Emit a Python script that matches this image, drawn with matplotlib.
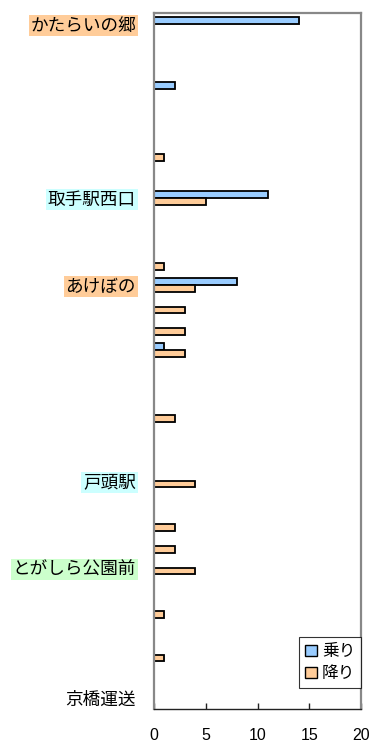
import matplotlib
matplotlib.use("Agg")
import matplotlib.pyplot as plt
from matplotlib.patches import Patch

plt.rcParams['font.family'] = ['Noto Sans CJK JP', 'DejaVu Sans']

# Bus stops along the route (only key stops are named on the axis)
stops = [""] * 32
stops[0] = "かたらいの郷"
stops[8] = "取手駅西口"
stops[12] = "あけぼの"
stops[21] = "戸頭駅"
stops[25] = "とがしら公園前"
stops[31] = "京橋運送"

# Background colour for highlighted stop names
label_bg = {0: "#FFCC99", 8: "#CCFFFF", 12: "#FFCC99", 21: "#CCFFFF", 25: "#CCFFCC"}

boarding = [0] * 32
boarding[0] = 14
boarding[3] = 2
boarding[8] = 11
boarding[12] = 8
boarding[15] = 1

alighting = [0] * 32
alighting[6] = 1
alighting[8] = 5
alighting[11] = 1
alighting[12] = 4
alighting[13] = 3
alighting[14] = 3
alighting[15] = 3
alighting[18] = 2
alighting[21] = 4
alighting[23] = 2
alighting[24] = 2
alighting[25] = 4
alighting[27] = 1
alighting[29] = 1

series_names = ["乗り", "降り"]
x_ticks = [0, 5, 10, 15, 20]

fig = plt.figure(figsize=(3.76, 7.46), dpi=100)
ax = fig.add_axes([154 / 376, 1 - 709 / 746, (361 - 154) / 376, (709 - 13) / 746])

idx = list(range(len(stops)))
h = 0.31
blue = "#99CCFF"
orange = "#FFCC99"

for vals, off, col in ((boarding, -h / 2, blue), (alighting, h / 2, orange)):
    ys = [i + off for i, v in zip(idx, vals) if v > 0]
    ws = [v for v in vals if v > 0]
    # soft drop shadow
    ax.barh([y + 0.04 for y in ys], ws, height=h, left=0.06, color="#bbbbbb",
            edgecolor="none", zorder=1)
    ax.barh(ys, ws, height=h, color=col, edgecolor="black", linewidth=1.3, zorder=2)

ax.set_xlim(0, 20)
ax.set_ylim(len(stops) - 0.5, -0.5)
ax.set_xticks(x_ticks)
ax.set_xticklabels([str(t) for t in x_ticks], fontfamily=['Liberation Sans', 'DejaVu Sans'],
                   fontsize=11.5)
ax.tick_params(axis='x', direction='in', length=4, width=1, pad=14, color="#222222")
ax.set_yticks(idx)
ax.set_yticklabels(stops, fontsize=12.7)
ax.tick_params(axis='y', length=0, pad=13)

for i, lab in enumerate(ax.get_yticklabels()):
    if i in label_bg:
        lab.set_bbox(dict(facecolor=label_bg[i], edgecolor="none", pad=1.2))

for side in ("left", "top", "right"):
    ax.spines[side].set_color("#888888")
    ax.spines[side].set_linewidth(1.6)
ax.spines["bottom"].set_color("#222222")
ax.spines["bottom"].set_linewidth(1.0)

handles = [Patch(facecolor=blue, edgecolor="black", linewidth=1.0),
           Patch(facecolor=orange, edgecolor="black", linewidth=1.0)]
leg = ax.legend(handles, series_names, loc="lower right",
                bbox_to_anchor=(1.0, (709 - 688) / 696), fontsize=12,
                frameon=True, fancybox=False, handlelength=0.7, handleheight=0.7,
                handletextpad=0.3, borderpad=0.35, labelspacing=0.3, borderaxespad=0)
leg.get_frame().set_edgecolor("black")
leg.get_frame().set_linewidth(0.8)

fig.savefig("out.png", dpi=100)
